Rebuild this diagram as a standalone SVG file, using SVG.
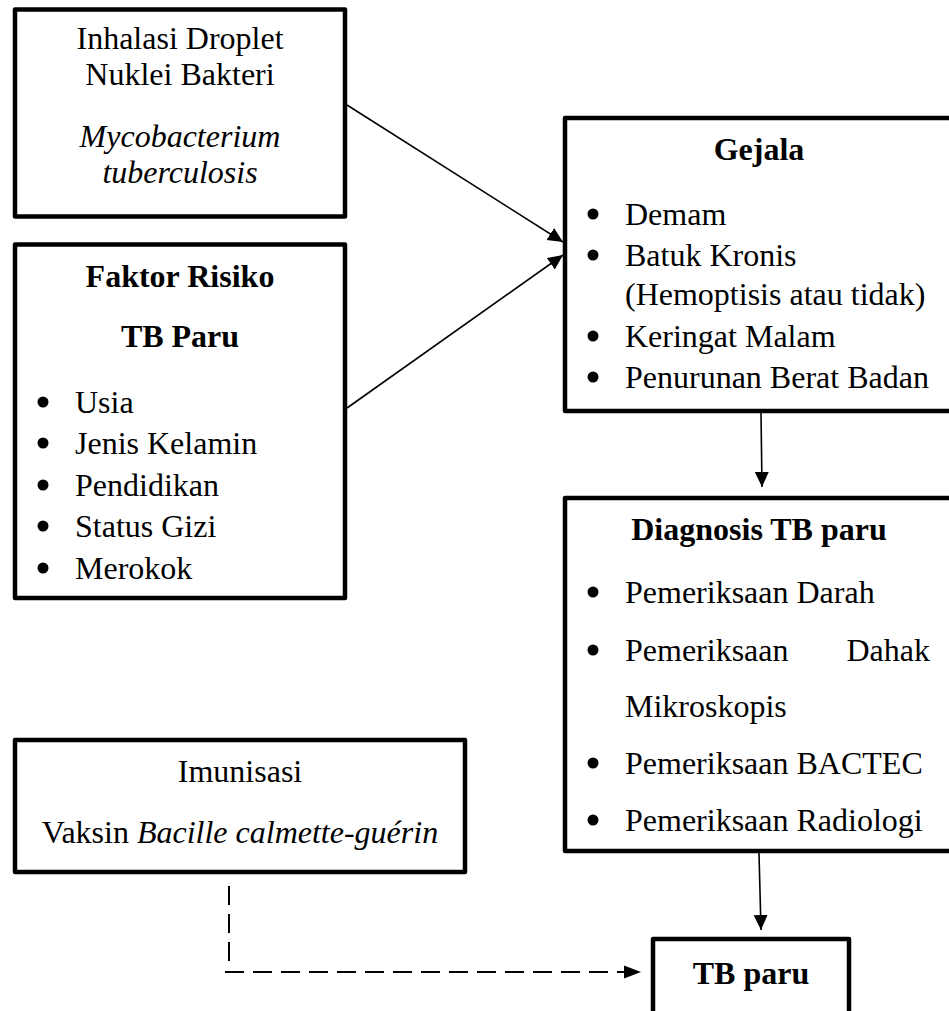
<svg xmlns="http://www.w3.org/2000/svg" width="949" height="1011" viewBox="0 0 949 1011">
<defs>
<style>
.box{fill:#fff;stroke:#000;stroke-width:4.5;stroke-linejoin:round}
text{font-family:"Liberation Serif","Times New Roman",serif;font-size:32px;fill:#000}
.c{text-anchor:middle}
.b{font-weight:bold}
.i{font-style:italic}
.con{stroke:#000;stroke-width:1.6;fill:none}
.dash{stroke:#000;stroke-width:2;fill:none;stroke-dasharray:19 9}
.dot{fill:#000}
</style>
<marker id="ah" markerUnits="userSpaceOnUse" markerWidth="18" markerHeight="16" refX="15" refY="7" orient="auto">
<path d="M0,0 L15,7 L0,14 Z" fill="#000"/>
</marker>
</defs>
<g id="connectors">
<line class="con" x1="347" y1="105" x2="563" y2="242" marker-end="url(#ah)"/>
<line class="con" x1="347" y1="408" x2="563" y2="255" marker-end="url(#ah)"/>
<line class="con" x1="761" y1="413" x2="762" y2="487" marker-end="url(#ah)"/>
<line class="con" x1="759" y1="853" x2="761" y2="930" marker-end="url(#ah)"/>
<path class="dash" d="M229,886 L229,962"/>
<path class="dash" d="M225,972 L626,972"/>
<path d="M624,965.5 L641,972 L624,978.5 Z" fill="#000"/>
</g>
<g id="node-inhalasi">
<rect class="box" x="15" y="9.5" width="330" height="207"/>
<text class="c" x="180" y="49">Inhalasi Droplet</text>
<text class="c" x="180" y="85">Nuklei Bakteri</text>
<text class="c i" x="180" y="147">Mycobacterium</text>
<text class="c i" x="180" y="183">tuberculosis</text>
</g>
<g id="node-faktor">
<rect class="box" x="15" y="244.5" width="330" height="353.5"/>
<text class="c b" x="180" y="287">Faktor Risiko</text>
<text class="c b" x="180" y="347">TB Paru</text>
<circle class="dot" cx="43" cy="402" r="5.5"/>
<circle class="dot" cx="43" cy="443" r="5.5"/>
<circle class="dot" cx="43" cy="485" r="5.5"/>
<circle class="dot" cx="43" cy="526" r="5.5"/>
<circle class="dot" cx="43" cy="568" r="5.5"/>
<text x="75" y="413">Usia</text>
<text x="75" y="454">Jenis Kelamin</text>
<text x="75" y="496">Pendidikan</text>
<text x="75" y="537">Status Gizi</text>
<text x="75" y="579">Merokok</text>
</g>
<g id="node-gejala">
<rect class="box" x="565" y="118" width="390" height="293"/>
<text class="c b" x="759" y="160">Gejala</text>
<circle class="dot" cx="593" cy="214" r="5.5"/>
<circle class="dot" cx="593" cy="255" r="5.5"/>
<circle class="dot" cx="593" cy="336" r="5.5"/>
<circle class="dot" cx="593" cy="377" r="5.5"/>
<text x="625" y="225">Demam</text>
<text x="625" y="266">Batuk Kronis</text>
<text x="625" y="305">(Hemoptisis atau tidak)</text>
<text x="625" y="347">Keringat Malam</text>
<text x="625" y="388">Penurunan Berat Badan</text>
</g>
<g id="node-diagnosis">
<rect class="box" x="565" y="498" width="390" height="353"/>
<text class="c b" x="759" y="540">Diagnosis TB paru</text>
<circle class="dot" cx="593" cy="592" r="5.5"/>
<circle class="dot" cx="593" cy="650" r="5.5"/>
<circle class="dot" cx="593" cy="763" r="5.5"/>
<circle class="dot" cx="593" cy="820" r="5.5"/>
<text x="625" y="603">Pemeriksaan Darah</text>
<text x="625" y="661">Pemeriksaan</text>
<text x="930" y="661" text-anchor="end">Dahak</text>
<text x="625" y="717">Mikroskopis</text>
<text x="625" y="774">Pemeriksaan BACTEC</text>
<text x="625" y="831">Pemeriksaan Radiologi</text>
</g>
<g id="node-imunisasi">
<rect class="box" x="15" y="740" width="450" height="132"/>
<text class="c" x="240" y="782">Imunisasi</text>
<text class="c" x="240" y="843">Vaksin <tspan class="i">Bacille calmette-guérin</tspan></text>
</g>
<g id="node-tbparu">
<rect class="box" x="653" y="939" width="196" height="90"/>
<text class="c b" x="751" y="984">TB paru</text>
</g>
</svg>
